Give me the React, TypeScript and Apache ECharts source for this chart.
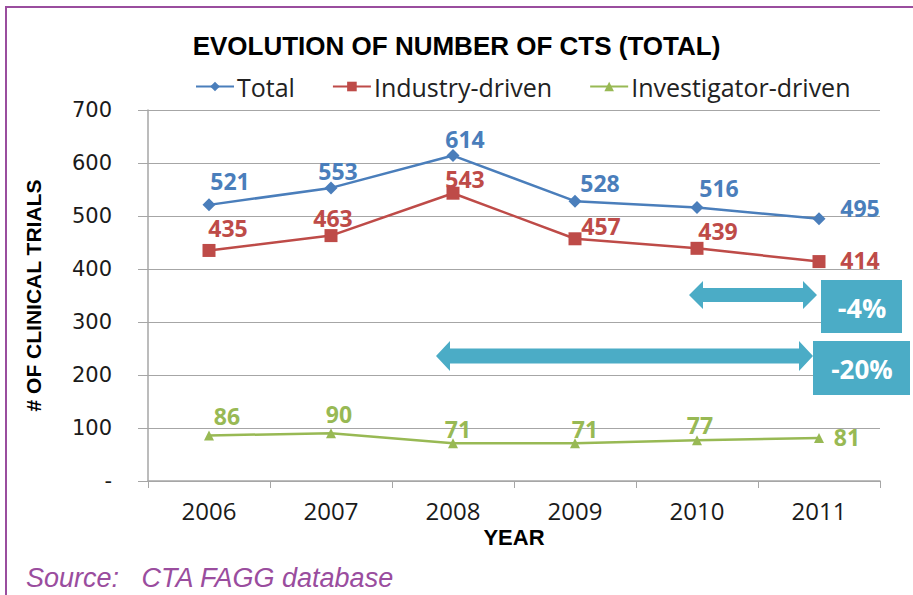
import React, { useEffect, useRef } from "react";
import * as echarts from "echarts";

const years = ["2006", "2007", "2008", "2009", "2010", "2011"];
const totalValues = [521, 553, 614, 528, 516, 495];
const industryValues = [435, 463, 543, 457, 439, 414];
const investigatorValues = [86, 90, 71, 71, 77, 81];
const yTickLabels = ["-", "100", "200", "300", "400", "500", "600", "700"];

// label offsets (placement only)
const totalOffsets = [[21, -24], [7, -17], [12, -17], [25, -18], [22, -20], [41, -11]];
const industryOffsets = [[19, -22], [2, -18], [12, -14], [26, -13], [21, -17], [41, -2]];
const investigatorOffsets = [[18, -19], [8, -19], [5, -14], [10, -14], [3, -15], [28, -1]];

const BLUE = "#4A7EBB";
const RED = "#BE4B48";
const GREEN = "#98B954";
const TEAL = "#4BACC6";
const PURPLE = "#9A4D9E";

function withOffsets(vals: number[], offs: number[][]) {
  return vals.map((v, i) => ({ value: v, label: { offset: offs[i] } }));
}

function dblArrow(x1: number, x2: number, cy: number, bodyH: number, headH: number, headL: number) {
  return [
    [x1, cy],
    [x1 + headL, cy - headH],
    [x1 + headL, cy - bodyH],
    [x2 - headL, cy - bodyH],
    [x2 - headL, cy - headH],
    [x2, cy],
    [x2 - headL, cy + headH],
    [x2 - headL, cy + bodyH],
    [x1 + headL, cy + bodyH],
    [x1 + headL, cy + headH],
  ];
}

export default function App() {
  const ref = useRef<HTMLDivElement>(null);
  useEffect(() => {
    if (!ref.current) return;
    const chart = echarts.init(ref.current, null, { renderer: "svg" });
    const labelBase = {
      show: true,
      position: "inside" as const,
      fontSize: 23,
      fontWeight: "bold" as const,
      fontFamily: "Open Sans",
    };
    chart.setOption({
      animation: false,
      backgroundColor: "#ffffff",
      title: {
        text: "EVOLUTION OF NUMBER OF CTS (TOTAL)",
        left: "center",
        top: 28,
        textStyle: {
          fontFamily: "Liberation Sans",
          fontWeight: "bold",
          fontSize: 26,
          color: "#000000",
        },
      },
      legend: {
        top: 69,
        left: 190,
        itemWidth: 38,
        itemHeight: 12,
        itemGap: 37,
        textStyle: { fontFamily: "Open Sans", fontSize: 25, color: "#222222", padding: [0, 0, 0, -2] },
        data: ["Total", "Industry-driven", "Investigator-driven"],
      },
      grid: { left: 148, right: 33, top: 110, bottom: 114 },
      xAxis: {
        type: "category",
        data: years,
        boundaryGap: true,
        name: "YEAR",
        nameLocation: "middle",
        nameGap: 45,
        nameTextStyle: {
          fontFamily: "Liberation Sans",
          fontWeight: "bold",
          fontSize: 22,
          color: "#000000",
        },
        axisLine: { lineStyle: { color: "#A6A6A6", width: 1.5 } },
        axisTick: { show: true, length: 7, inside: false, lineStyle: { color: "#A6A6A6" } },
        axisLabel: { fontFamily: "Open Sans", fontSize: 24, color: "#1a1a1a", margin: 17 },
      },
      yAxis: {
        type: "value",
        min: 0,
        max: 700,
        interval: 100,
        name: "# OF CLINICAL TRIALS",
        nameLocation: "middle",
        nameGap: 104,
        nameTextStyle: {
          fontFamily: "Liberation Sans",
          fontWeight: "bold",
          fontSize: 21,
          color: "#000000",
        },
        axisLine: { show: true, lineStyle: { color: "#A6A6A6", width: 1.5 } },
        axisTick: { show: true, length: 10, lineStyle: { color: "#A6A6A6" } },
        splitLine: { show: true, lineStyle: { color: "#A6A6A6", width: 1.2 } },
        axisLabel: {
          fontFamily: "DejaVu Sans",
          fontSize: 21,
          color: "#1a1a1a",
          margin: 36,
          formatter: (v: number) => yTickLabels[Math.round(v / 100)],
        },
      },
      series: [
        {
          name: "Total",
          type: "line",
          data: withOffsets(totalValues, totalOffsets),
          symbol: "diamond",
          symbolSize: 13,
          itemStyle: { color: BLUE },
          lineStyle: { color: BLUE, width: 2.5 },
          label: { ...labelBase, color: BLUE },
          z: 3,
        },
        {
          name: "Industry-driven",
          type: "line",
          data: withOffsets(industryValues, industryOffsets),
          symbol: "rect",
          symbolSize: 13,
          itemStyle: { color: RED },
          lineStyle: { color: RED, width: 2.5 },
          label: { ...labelBase, color: RED },
          z: 2,
        },
        {
          name: "Investigator-driven",
          type: "line",
          data: withOffsets(investigatorValues, investigatorOffsets),
          symbol: "triangle",
          symbolSize: 10,
          itemStyle: { color: GREEN },
          lineStyle: { color: GREEN, width: 2.5 },
          label: { ...labelBase, color: GREEN },
          z: 2,
        },
      ],
      graphic: [
        {
          type: "line",
          shape: { x1: 5, y1: 7, x2: 913, y2: 7 },
          style: { stroke: PURPLE, lineWidth: 2 },
        },
        {
          type: "line",
          shape: { x1: 6, y1: 6, x2: 6, y2: 595 },
          style: { stroke: PURPLE, lineWidth: 2 },
        },
        {
          type: "polygon",
          shape: { points: dblArrow(689, 817, 295, 7, 14, 14) },
          style: { fill: TEAL },
          z: 10,
        },
        {
          type: "polygon",
          shape: { points: dblArrow(436, 813, 356, 7.5, 15, 14) },
          style: { fill: TEAL },
          z: 10,
        },
        {
          type: "rect",
          shape: { x: 821, y: 280, width: 81, height: 53 },
          style: { fill: TEAL },
          z: 11,
        },
        {
          type: "rect",
          shape: { x: 813, y: 341, width: 97, height: 54 },
          style: { fill: TEAL },
          z: 11,
        },
        {
          type: "text",
          x: 862,
          y: 307,
          style: {
            text: "-4%",
            fill: "#ffffff",
            fontFamily: "Open Sans",
            fontWeight: "bold",
            fontSize: 27,
            align: "center",
            verticalAlign: "middle",
          },
          z: 12,
        },
        {
          type: "text",
          x: 862,
          y: 369,
          style: {
            text: "-20%",
            fill: "#ffffff",
            fontFamily: "Open Sans",
            fontWeight: "bold",
            fontSize: 26,
            align: "center",
            verticalAlign: "middle",
          },
          z: 12,
        },
        {
          type: "text",
          x: 26,
          y: 578,
          style: {
            text: "Source:   CTA FAGG database",
            fill: PURPLE,
            fontFamily: "Liberation Sans",
            fontStyle: "italic",
            fontSize: 27,
            align: "left",
            verticalAlign: "middle",
          },
          z: 12,
        },
      ],
    });
    return () => chart.dispose();
  }, []);
  return (
    <div style={{ position: "absolute", left: 0, top: 0, width: 913, height: 595 }}>
      <div ref={ref} style={{ width: 913, height: 595 }} />
    </div>
  );
}
